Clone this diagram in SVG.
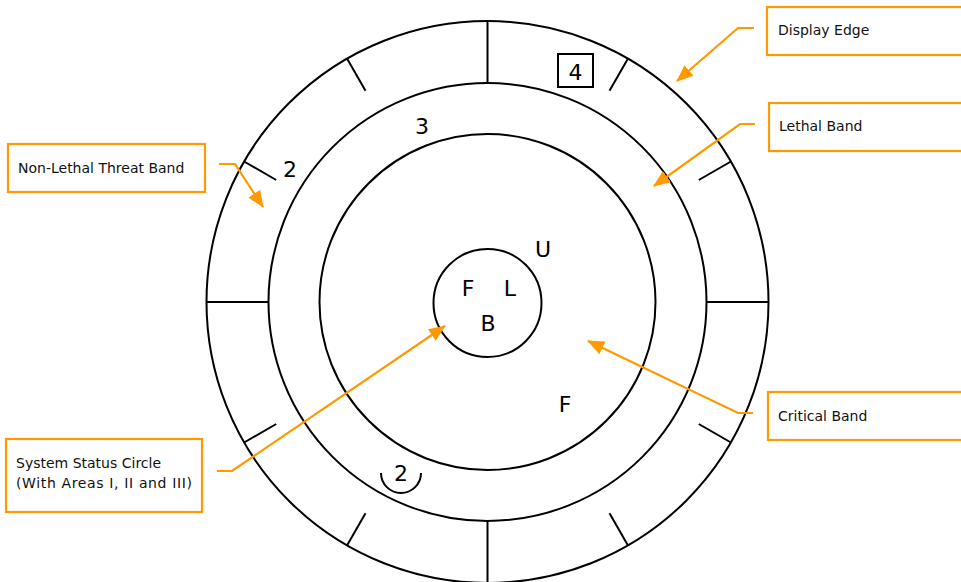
<svg xmlns="http://www.w3.org/2000/svg" width="961" height="582" viewBox="0 0 961 582">
<style>
.ring{fill:none;stroke:#000;stroke-width:2}
.tick{stroke:#000;stroke-width:2;fill:none}
.sym{font-family:"DejaVu Sans",sans-serif;font-size:22px;fill:#000;text-anchor:middle}
.box{fill:#fff;stroke:#FF9900;stroke-width:2.2}
.lbl{font-family:"DejaVu Sans",sans-serif;font-size:14px;fill:#111}
.lead{fill:none;stroke:#FF9900;stroke-width:2.2;marker-end:url(#ah)}
</style>
<defs>
<marker id="ah" markerUnits="userSpaceOnUse" markerWidth="18" markerHeight="14" refX="16" refY="7" orient="auto">
<path d="M0,0 L17,7 L0,14 z" fill="#FF9900"/>
</marker>
</defs>
<rect width="961" height="582" fill="#fff"/>
<g id="display">
<circle id="display-edge" class="ring" cx="487.5" cy="302" r="281"/>
<circle id="lethal-ring" class="ring" cx="487.5" cy="302" r="219"/>
<circle id="critical-ring" class="ring" cx="487.5" cy="302" r="168"/>
<circle id="status-circle" class="ring" cx="487.5" cy="303" r="54"/>
<g id="ticks">
<line class="tick" x1="487.5" y1="21" x2="487.5" y2="83"/>
<line class="tick" x1="487.5" y1="521" x2="487.5" y2="583"/>
<line class="tick" x1="206.5" y1="302" x2="268.5" y2="302"/>
<line class="tick" x1="706.5" y1="302" x2="768.5" y2="302"/>
<line class="tick" x1="609.5" y1="90.7" x2="628" y2="58.6"/>
<line class="tick" x1="698.8" y1="180" x2="730.9" y2="161.5"/>
<line class="tick" x1="698.8" y1="424" x2="730.9" y2="442.5"/>
<line class="tick" x1="609.5" y1="513.3" x2="628" y2="545.4"/>
<line class="tick" x1="365.5" y1="513.3" x2="347" y2="545.4"/>
<line class="tick" x1="276.2" y1="424" x2="244.1" y2="442.5"/>
<line class="tick" x1="276.2" y1="180" x2="244.1" y2="161.5"/>
<line class="tick" x1="365.5" y1="90.7" x2="347" y2="58.6"/>
</g>
<g id="symbols">
<rect x="558" y="54" width="35" height="33" fill="none" stroke="#000" stroke-width="2"/>
<text class="sym" x="575.5" y="80">4</text>
<text class="sym" x="422" y="134">3</text>
<text class="sym" x="290" y="177">2</text>
<text class="sym" x="543" y="257">U</text>
<text class="sym" x="468" y="296">F</text>
<text class="sym" x="510" y="296">L</text>
<text class="sym" x="488" y="331">B</text>
<text class="sym" x="565" y="412">F</text>
<text class="sym" x="401" y="481">2</text>
<path d="M381,473 A20,20 0 0 0 421,473" fill="none" stroke="#000" stroke-width="2"/>
</g>
</g>
<g id="node-display-edge">
<rect class="box" x="767" y="7" width="200" height="48"/>
<text class="lbl" x="778" y="35">Display Edge</text>
</g>
<g id="node-lethal-band">
<rect class="box" x="769" y="103" width="200" height="48"/>
<text class="lbl" x="779" y="131">Lethal Band</text>
</g>
<g id="node-non-lethal">
<rect class="box" x="8" y="144" width="197" height="48"/>
<text class="lbl" x="18" y="173">Non-Lethal Threat Band</text>
</g>
<g id="node-system-status">
<rect class="box" x="6" y="439" width="196" height="73"/>
<text class="lbl" x="16" y="468">System Status Circle</text>
<text class="lbl" x="16" y="488" textLength="176" lengthAdjust="spacing">(With Areas I, II and III)</text>
</g>
<g id="node-critical-band">
<rect class="box" x="768" y="392" width="200" height="48"/>
<text class="lbl" x="778" y="421">Critical Band</text>
</g>
<g id="connectors">
<polyline class="lead" points="754,28 738,28 677,81"/>
<polyline class="lead" points="755,124 740,124 654,186"/>
<polyline class="lead" points="219,164 235,164 263,207"/>
<polyline class="lead" points="217,471 232,471 445,326"/>
<polyline class="lead" points="753,413 738,413 588,341"/>
</g>
</svg>
